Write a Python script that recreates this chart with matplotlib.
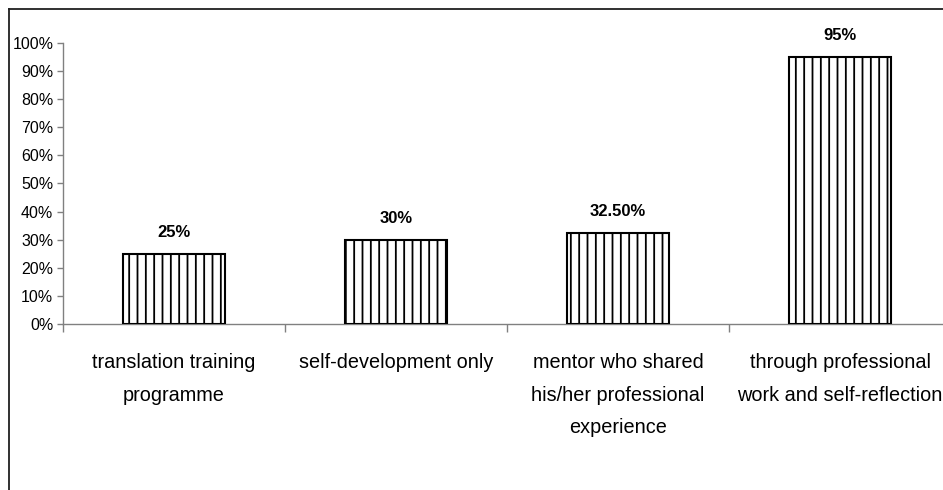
import matplotlib.pyplot as plt
from matplotlib.lines import Line2D
from matplotlib.ticker import FixedLocator, PercentFormatter

categories = [
    "translation training\nprogramme",
    "self-development only",
    "mentor who shared\nhis/her professional\nexperience",
    "through professional\nwork and self-reflection",
]
shares = [25, 30, 32.5, 95]
share_labels = ["25%", "30%", "32.50%", "95%"]
y_ticks = list(range(0, 101, 10))

plt.rcParams['font.family'] = ['Liberation Sans', 'DejaVu Sans']
plt.rcParams['hatch.linewidth'] = 1.3
plt.rcParams['hatch.color'] = 'black'

fig = plt.figure(figsize=(9.43, 4.90), dpi=100)
ax = fig.add_axes([0.0668, 0.3388, 0.9417, 0.5735])

x = range(len(categories))
bars = ax.bar(x, shares, width=0.46, color='white', edgecolor='black',
              linewidth=1.5, hatch='||', zorder=3)

for rect, txt in zip(bars, share_labels):
    ax.annotate(txt, (rect.get_x() + rect.get_width() / 2, rect.get_height()),
                xytext=(0, 15.5), textcoords='offset points', ha='center',
                va='center', fontsize=12, fontweight='bold')

ax.set_xlim(-0.5, len(categories) - 0.5)
ax.set_ylim(0, 100)
ax.set_yticks(y_ticks)
ax.yaxis.set_major_formatter(PercentFormatter(decimals=0))
ax.tick_params(axis='y', labelsize=11.5, length=4, width=1, color='#808080', pad=3)

ax.set_xticks(list(x))
ax.set_xticklabels(categories, fontsize=14.3, linespacing=1.9)
ax.tick_params(axis='x', which='major', length=0, pad=21)
ax.xaxis.set_minor_locator(FixedLocator([i - 0.5 for i in range(len(categories) + 1)]))
ax.tick_params(axis='x', which='minor', length=6, width=1, color='#808080')

for side in ['top', 'right']:
    ax.spines[side].set_visible(False)
for side in ['left', 'bottom']:
    ax.spines[side].set_color('#808080')
    ax.spines[side].set_linewidth(1)

# outer frame of the chart area (open at right and bottom)
fig.add_artist(Line2D([0.0095, 0.0095], [0, 0.981], transform=fig.transFigure,
                      color='#202020', linewidth=1.3))
fig.add_artist(Line2D([0.0095, 1], [0.981, 0.981], transform=fig.transFigure,
                      color='#202020', linewidth=1.3))

fig.savefig('out.png', dpi=100)
